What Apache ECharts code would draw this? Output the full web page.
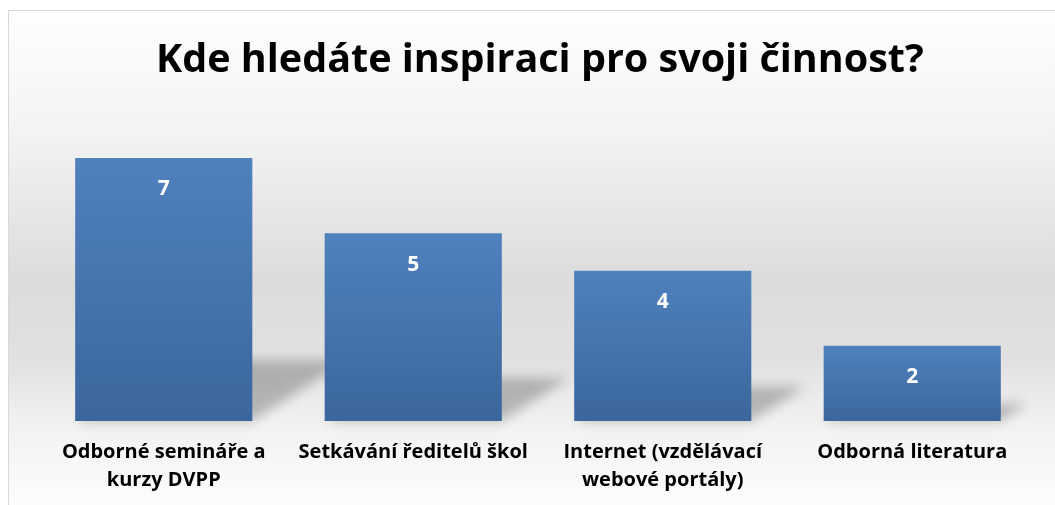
<!DOCTYPE html>
<html>
<head>
<meta charset="utf-8">
<script src="https://cdn.jsdelivr.net/npm/echarts@6/dist/echarts.min.js"></script>
<style>
  html, body { margin: 0; padding: 0; background: #fff; overflow: hidden; }
  #frame {
    position: absolute; left: 8px; top: 10px; width: 1100px; height: 520px;
    border: 1px solid #d9d9d9;
    background: linear-gradient(to bottom, #fefefe 0%, #f4f4f4 22%, #dcdcdc 52%, #e1e1e1 67%, #f1f1f1 79%, #fdfdfd 95%, #fefefe 100%);
  }
  #chart { position: absolute; left: 0; top: 0; width: 1055px; height: 505px; }
</style>
</head>
<body>
<div id="frame"></div>
<div id="chart"></div>
<script>
var titleText = "Kde hledáte inspiraci pro svoji činnost?";
var categories = [
  "Odborné semináře a\nkurzy DVPP",
  "Setkávání ředitelů škol",
  "Internet (vzdělávací\nwebové portály)",
  "Odborná literatura"
];
var counts = [7, 5, 4, 2];

var chart = echarts.init(document.getElementById("chart"));

// skewed soft shadow behind each bar (shape drawn off screen, only its blurred shadow shows)
var OFF = 2000;
function renderShadow(params, api) {
  var base = api.coord([api.value(0), 0]);
  var top = api.coord([api.value(0), api.value(1)]);
  var w = api.size([1, 0])[0] * 0.71;
  var h = base[1] - top[1];
  var x0 = base[0] - w / 2, x1 = base[0] + w / 2, y = base[1] - OFF;
  var dx = h * 0.36, dy = h * 0.23;
  return {
    type: "polygon",
    shape: { points: [[x0, y], [x1, y], [x1 + dx, y - dy], [x0 + dx, y - dy]] },
    style: {
      fill: "#000",
      shadowBlur: 12,
      shadowOffsetY: OFF,
      shadowColor: "rgba(0,0,0,0.24)"
    }
  };
}

chart.setOption({
  backgroundColor: "transparent",
  title: {
    text: titleText,
    left: 151,
    top: 36,
    textStyle: {
      fontFamily: "Open Sans",
      fontWeight: "bold",
      fontSize: 39.5,
      color: "#000"
    }
  },
  grid: { left: 39, right: 18, top: 158, bottom: 84 },
  xAxis: {
    type: "category",
    data: categories,
    axisLine: { show: false },
    axisTick: { show: false },
    axisLabel: {
      interval: 0,
      margin: 17,
      color: "#000",
      fontFamily: "Open Sans",
      fontWeight: "bold",
      fontSize: 20,
      lineHeight: 28
    }
  },
  yAxis: {
    type: "value",
    min: 0,
    max: 7,
    show: false,
    splitLine: { show: false }
  },
  series: [
    {
      type: "custom",
      renderItem: renderShadow,
      data: counts.map(function (v, i) { return [i, v]; }),
      z: 1,
      silent: true
    },
    {
      type: "bar",
      data: counts,
      barWidth: "71%",
      z: 2,
      itemStyle: {
        color: new echarts.graphic.LinearGradient(0, 0, 0, 1, [
          { offset: 0, color: "#4f81bd" },
          { offset: 1, color: "#3b669d" }
        ])
      },
      label: {
        show: true,
        position: "insideTop",
        distance: 21,
        color: "#fff",
        fontFamily: "Open Sans",
        fontWeight: "bold",
        fontSize: 21
      }
    }
  ]
});
</script>
</body>
</html>
